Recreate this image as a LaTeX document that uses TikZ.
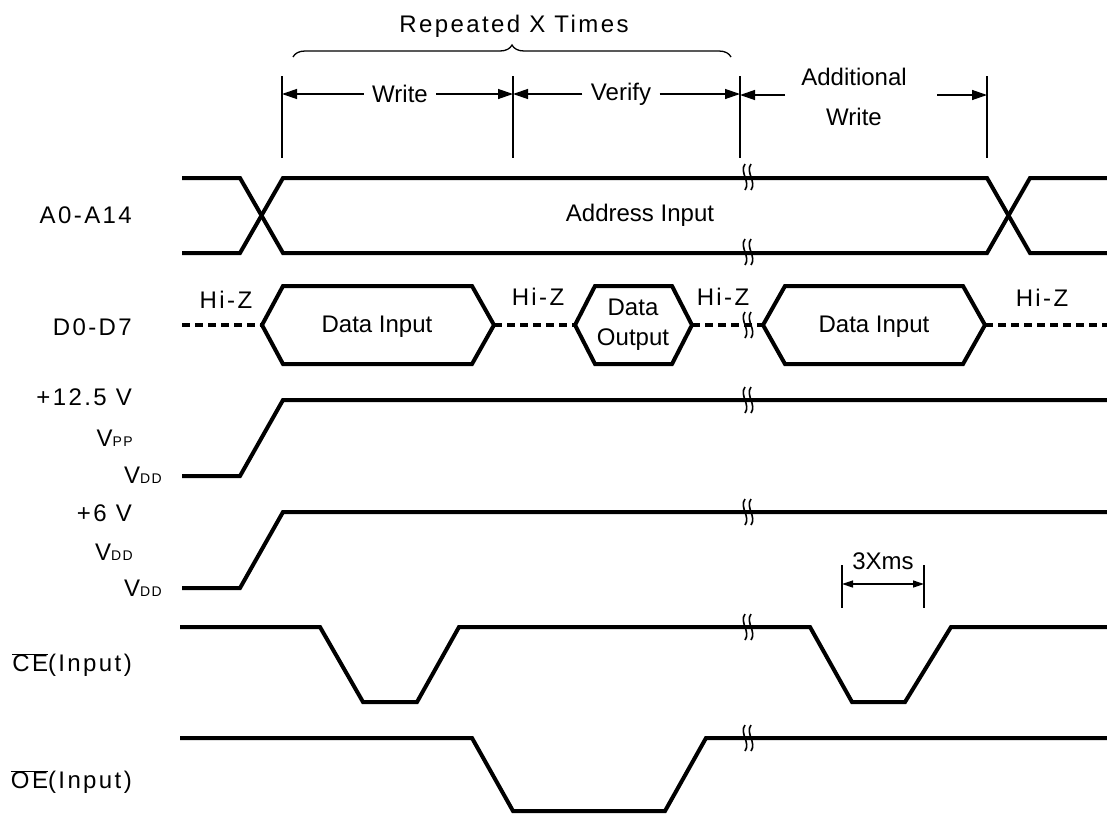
\documentclass[tikz,border=0pt]{standalone}
\usepackage{fontspec}
\setmainfont{Liberation Sans}
\newfontfamily\widefont[LetterSpace=10]{Liberation Sans}
\usetikzlibrary{arrows.meta, decorations.pathreplacing}

\newcommand{\sub}[1]{{\fontsize{14}{14}\selectfont #1}}

\begin{document}
\begin{tikzpicture}[x=1pt, y=-1pt,
    font=\fontsize{24}{29}\selectfont,
    sig/.style={line width=4pt, line join=miter},
    hiz/.style={line width=4pt, dash pattern=on 8pt off 5pt},
    dim/.style={line width=1.3pt},
    tip/.style={-{Triangle[length=15pt,width=10pt]}},
    brk/.style={line width=1.6pt},
    lbl/.style={anchor=east, inner sep=0pt, font=\fontsize{24}{29}\widefont}]
   \useasboundingbox (0,0) rectangle (1107,814);

   % Kopf: Klammer und Abschnitte
   \node[font=\fontsize{24}{29}\widefont] (rep) at (514,26) {Repeated X Times};
   \draw[dim, decorate, decoration={brace, amplitude=12pt}] (293,57) -- (731,57);

   \foreach \x in {282,513,740,987}
     \draw[dim] (\x,76) -- (\x,158);

   \node (wr) at (400,94) {Write};
   \node (vf) at (621,94) {Verify};
   \node (adda) at (854,77) {Additional};
   \node (addb) at (854,117) {Write};
   \draw[dim, tip] (wr.west) ++(-5,0) -- (282,94);
   \draw[dim, tip] (wr.east) ++(5,0) -- (513,94);
   \draw[dim, tip] (vf.west) ++(-5,0) -- (513,94);
   \draw[dim, tip] (vf.east) ++(5,0) -- (740,94);
   \draw[dim, tip] (785,95) -- (740,95);
   \draw[dim, tip] (937,95) -- (987,95);

   % Signalnamen
   \node[lbl] (la) at (132,215) {A0-A14};
   \node[lbl] (ld) at (132,327) {D0-D7};
   \node[lbl] (lpp) at (132,397) {+12.5 V};
   \node[lbl] (lpp1) at (133,438) {V\sub{PP}};
   \node[lbl] (lpp2) at (162,475) {V\sub{DD}};
   \node[lbl] (ldd) at (132,513) {+6 V};
   \node[lbl] (ldd1) at (133,552) {V\sub{DD}};
   \node[lbl] (ldd2) at (162,588) {V\sub{DD}};
   \node[lbl] (lce) at (132,665) {$\overline{\hbox{CE}}$(Input)};
   \node[lbl] (loe) at (132,782) {$\overline{\hbox{OE}}$(Input)};

   % Adressen
   \draw[sig] (182,178) -- (240,178) -- (283,253) -- (987,253) -- (1030,178) -- (1107,178);
   \draw[sig] (182,253) -- (240,253) -- (283,178) -- (987,178) -- (1030,253) -- (1107,253);
   \node (ain) at (640,215) {Address Input};

   % Daten
   \draw[hiz] (182,325) -- (262,325);
   \draw[sig] (262,325) -- (283,286) -- (472,286) -- (494,325) -- (472,364) -- (283,364) -- cycle;
   \draw[hiz] (494,325) -- (575,325);
   \draw[sig] (575,325) -- (595,286) -- (672,286) -- (692,325) -- (672,364) -- (595,364) -- cycle;
   \draw[hiz] (692,325) -- (763,325);
   \draw[sig] (763,325) -- (785,286) -- (963,286) -- (985,325) -- (963,364) -- (785,364) -- cycle;
   \draw[hiz] (985,325) -- (1107,325);
   \node (din1) at (377,327) {Data Input};
   \node[align=center, font=\fontsize{24}{30}\selectfont] (dout) at (633,325) {Data\\Output};
   \node (din2) at (874,327) {Data Input};
   \node[font=\fontsize{24}{29}\widefont] (hz1) at (226,300) {Hi-Z};
   \node[font=\fontsize{24}{29}\widefont] (hz2) at (538,297) {Hi-Z};
   \node[font=\fontsize{24}{29}\widefont] (hz3) at (723,297) {Hi-Z};
   \node[font=\fontsize{24}{29}\widefont] (hz4) at (1042,298) {Hi-Z};

   % Spannungen
   \draw[sig] (182,476) -- (240,476) -- (283,400) -- (1107,400);
   \draw[sig] (182,588) -- (240,588) -- (283,512) -- (1107,512);

   % CE und OE
   \draw[sig] (180,627) -- (320,627) -- (363,702) -- (417,702) -- (459,627) -- (810,627)
              -- (852,702) -- (905,702) -- (951,627) -- (1107,627);
   \draw[sig] (180,738) -- (472,738) -- (513,811) -- (665,811) -- (706,738) -- (1107,738);

   % 3Xms
   \draw[dim] (842,565) -- (842,608);
   \draw[dim] (924,565) -- (924,608);
   \draw[dim, {Triangle[length=11pt,width=7pt]}-{Triangle[length=11pt,width=7pt]}] (842,584) -- (924,584);
   \node (ms) at (883,561) {3Xms};

   % Unterbrechungen
   \foreach \y in {177,252,325,400,512,627,738} {
     \draw[brk] (745,\y-13) .. controls (739,\y-5) and (751,\y+5) .. (745,\y+13);
     \draw[brk] (751,\y-13) .. controls (745,\y-5) and (757,\y+5) .. (751,\y+13);
   }
\end{tikzpicture}
\end{document}
